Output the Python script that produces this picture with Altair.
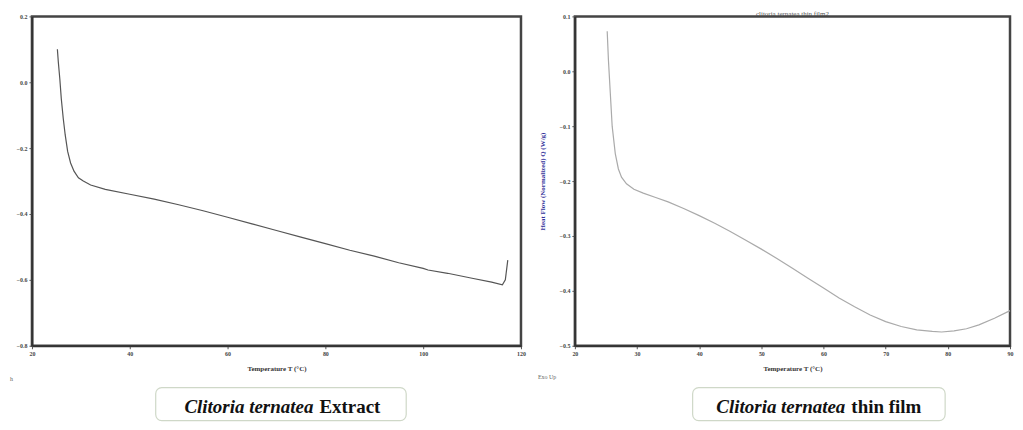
import altair as alt
import pandas as pd

# Left panel: Clitoria ternatea Extract
ext_T = [25.2, 25.4, 25.7, 26.0, 26.4, 26.8, 27.3, 27.9, 28.6, 29.5, 30.5, 32.0, 35.0, 40.0,
         45.0, 50.0, 55.0, 60.0, 65.0, 70.0, 75.0, 80.0, 85.0, 90.0, 95.0, 100.0, 101.0,
         105.0, 110.0, 114.0, 116.2, 116.8, 117.3]
ext_Q = [0.10, 0.06, 0.01, -0.05, -0.11, -0.16, -0.21, -0.245, -0.27, -0.29, -0.30, -0.312,
         -0.325, -0.340, -0.355, -0.372, -0.390, -0.410, -0.430, -0.450, -0.470, -0.490,
         -0.510, -0.528, -0.548, -0.565, -0.570, -0.580, -0.595, -0.607, -0.615, -0.600, -0.540]

# Right panel: Clitoria ternatea thin film
film_T = [25.2, 25.4, 25.7, 26.0, 26.5, 27.0, 27.5, 28.3, 29.5, 31.0, 33.0, 35.0, 37.5,
          40.0, 42.5, 45.0, 47.5, 50.0, 52.5, 55.0, 57.5, 60.0, 62.5, 65.0, 67.5, 70.0,
          72.5, 75.0, 77.5, 79.0, 81.0, 83.0, 85.0, 87.5, 90.0]
film_Q = [0.073, 0.02, -0.04, -0.10, -0.15, -0.178, -0.193, -0.205, -0.215, -0.222, -0.230,
          -0.238, -0.250, -0.263, -0.277, -0.292, -0.308, -0.324, -0.341, -0.359, -0.377,
          -0.395, -0.413, -0.429, -0.444, -0.456, -0.465, -0.471, -0.474, -0.475, -0.473,
          -0.469, -0.462, -0.450, -0.436]

left_ticks_y = [0.2, 0.0, -0.2, -0.4, -0.6, -0.8]
left_ticks_x = [20, 40, 60, 80, 100, 120]
right_ticks_y = [0.1, 0.0, -0.1, -0.2, -0.3, -0.4, -0.5]
right_ticks_x = [20, 30, 40, 50, 60, 70, 80, 90]

x_title = "Temperature T (°C)"
y_title_right = "Heat Flow (Normalized) Q (W/g)"
right_title = "clitoria ternatea thin film2"

df_ext = pd.DataFrame({"T": ext_T, "Q": ext_Q})
df_film = pd.DataFrame({"T": film_T, "Q": film_Q})

SERIF = "Liberation Serif"
one = pd.DataFrame({"a": [0]})


def axis_common(values, fmt, **kw):
    opts = dict(values=values, format=fmt, labelFont=SERIF,
                labelFontSize=6, labelFontWeight="bold", labelColor="#444",
                titleFont=SERIF, titleFontSize=7, titleFontWeight="bold",
                titleColor="#333", domainColor="#333", domainWidth=2,
                tickColor="#555", tickSize=3, grid=False, labelFlush=False)
    opts.update(kw)
    return alt.Axis(**opts)


def caption(bx1, bx2, ital_end, gap, rest_text):
    box = alt.Chart(one).mark_rect(
        fill="white", stroke="#cfd8c8", strokeWidth=1.2, cornerRadius=6
    ).encode(x=alt.value(bx1), x2=alt.value(bx2), y=alt.value(372), y2=alt.value(405))
    t1 = alt.Chart(one).mark_text(
        text="Clitoria ternatea", font=SERIF, fontSize=19, fontStyle="italic",
        fontWeight="bold", align="right", baseline="alphabetic", color="#111"
    ).encode(x=alt.value(ital_end), y=alt.value(397))
    t2 = alt.Chart(one).mark_text(
        text=rest_text, font=SERIF, fontSize=19, fontWeight="bold",
        align="left", baseline="alphabetic", color="#111"
    ).encode(x=alt.value(ital_end + gap), y=alt.value(397))
    return box + t1 + t2


left_line = alt.Chart(df_ext).mark_line(color="#555", strokeWidth=1.2).encode(
    x=alt.X("T:Q", scale=alt.Scale(domain=[20, 120], nice=False),
            axis=axis_common(left_ticks_x, "d", title=x_title, titlePadding=8)),
    y=alt.Y("Q:Q", scale=alt.Scale(domain=[-0.8, 0.2], nice=False),
            axis=axis_common(left_ticks_y, ".1f", title="")),
    order="T:Q",
)
left_note = alt.Chart(one).mark_text(
    text="h", font=SERIF, fontSize=6, color="#666", align="left"
).encode(x=alt.value(-22), y=alt.value(363))
left = (left_line + left_note + caption(124, 375, 282, 6, "Extract")).properties(
    width=490, height=330)

right_line = alt.Chart(df_film).mark_line(color="#aaa", strokeWidth=1.2).encode(
    x=alt.X("T:Q", scale=alt.Scale(domain=[20, 90], nice=False),
            axis=axis_common(right_ticks_x, "d", title=x_title, titlePadding=8)),
    y=alt.Y("Q:Q", scale=alt.Scale(domain=[-0.5, 0.1], nice=False),
            axis=axis_common(right_ticks_y, ".1f", title=y_title_right,
                             titleColor="#33339a", titlePadding=14)),
    order="T:Q",
)
right_note = alt.Chart(one).mark_text(
    text="Exo Up", font=SERIF, fontSize=6, color="#666", align="left"
).encode(x=alt.value(-37), y=alt.value(361))
right_head = alt.Chart(one).mark_text(
    text=right_title, font=SERIF, fontSize=7, color="#555", align="center",
    baseline="middle"
).encode(x=alt.value(218), y=alt.value(-2))
right = (right_line + right_note + right_head +
         caption(118, 371, 271, 6, "thin film")).properties(width=436, height=330)

chart = alt.hconcat(left, right, spacing=54, bounds="flush").properties(
    padding={"left": 0, "top": 0, "right": 0, "bottom": 0}
).configure_view(stroke="#444", strokeWidth=2.5)

chart.save("out.html", embed_options={"renderer": "svg", "actions": False})
